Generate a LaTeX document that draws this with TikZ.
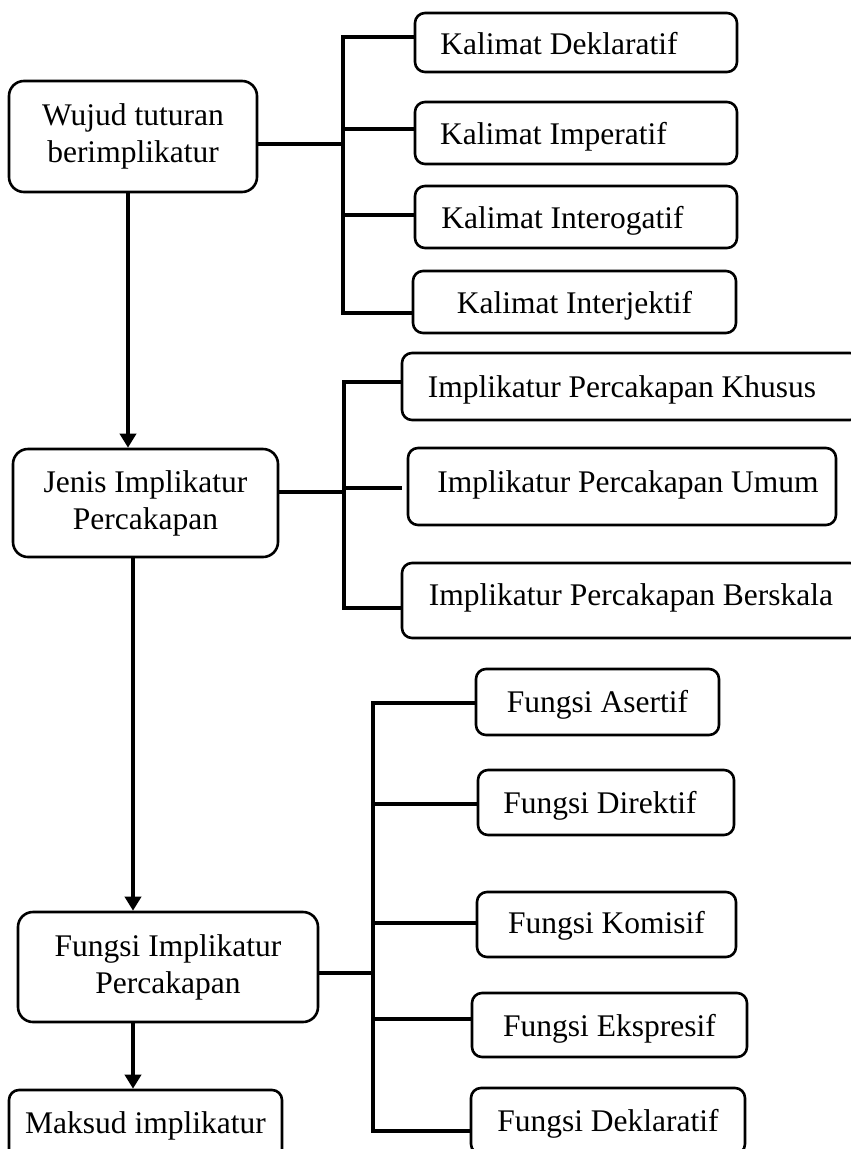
\documentclass[tikz,border=0pt]{standalone}
\usepackage{fontspec}
\setmainfont{Liberation Serif}
\usetikzlibrary{arrows.meta}
\begin{document}
\begin{tikzpicture}[x=1pt,y=-1pt,
  bx/.style={draw, line width=2.6pt, rounded corners=10pt, inner sep=0pt,
    font=\fontsize{31.5}{37}\selectfont, text height=23pt, text depth=#1},
  bx/.default=0pt,
  ts/.style={execute at begin node={\hspace*{#1}}},
  big/.style={draw, line width=2.6pt, rounded corners=15pt, inner sep=0pt,
    align=center, font=\fontsize{31.5}{37}\selectfont},
  conn/.style={line width=4pt, line cap=rect},
  arr/.style={line width=4pt, -{Triangle[width=16pt,length=14pt]}}]
\useasboundingbox (0,0) rectangle (851,1149);
\clip (0,0) rectangle (851,1149);

% main column
\node[big, minimum width=248pt, minimum height=111pt] (w1) at (133,136.5) {Wujud tuturan\\berimplikatur};
\node[big, minimum width=265pt, minimum height=108pt] (jn) at (145.5,503) {Jenis Implikatur\\Percakapan};
\node[big, minimum width=300pt, minimum height=110pt] (fg) at (168,967) {Fungsi Implikatur\\Percakapan};
\node[bx=9pt, minimum width=273pt, minimum height=72pt] (mk) at (145.5,1126) {Maksud implikatur};

% kalimat
\node[bx, ts=-34pt, minimum width=322pt, minimum height=59pt] (k1) at (576,42.5) {Kalimat Deklaratif};
\node[bx, ts=-45pt, minimum width=322pt, minimum height=62pt] (k2) at (576,133) {Kalimat Imperatif};
\node[bx, ts=-27pt, minimum width=322pt, minimum height=62pt] (k3) at (576,217) {Kalimat Interogatif};
\node[bx, minimum width=323pt, minimum height=62pt] (k4) at (574.5,302) {Kalimat Interjektif};

% implikatur
\node[bx=2pt, ts=-18pt, minimum width=458pt, minimum height=67pt] (i1) at (631,386.5) {Implikatur Percakapan Khusus};
\node[bx=12pt, ts=12pt, minimum width=428pt, minimum height=77pt] (i2) at (622,486.5) {Implikatur Percakapan Umum};
\node[bx=14pt, minimum width=458pt, minimum height=75pt] (i3) at (631,600.5) {Implikatur Percakapan Berskala};

% fungsi
\node[bx=3pt, minimum width=243pt, minimum height=66pt] (f1) at (597.5,702) {Fungsi Asertif};
\node[bx=2pt, ts=-12pt, minimum width=256pt, minimum height=65pt] (f2) at (606,802.5) {Fungsi Direktif};
\node[bx=6pt, minimum width=259pt, minimum height=65pt] (f3) at (606.5,924.5) {Fungsi Komisif};
\node[bx=1pt, minimum width=275pt, minimum height=64pt] (f4) at (609.5,1025) {Fungsi Ekspresif};
\node[bx=3pt, minimum width=274pt, minimum height=66pt] (f5) at (608,1121) {Fungsi Deklaratif};

% bus 1
\coordinate (p11) at (343,37);
\coordinate (p12) at (343,129);
\coordinate (p13) at (343,215);
\coordinate (p14) at (343,313);
\coordinate (c1) at (343,144);
\draw[conn] (p11) -- (p14);
\draw[conn] (c1 -| w1.east) -- (c1);
\draw[conn] (p11) -- (p11 -| k1.west);
\draw[conn] (p12) -- (p12 -| k2.west);
\draw[conn] (p13) -- (p13 -| k3.west);
\draw[conn] (p14) -- (p14 -| k4.west);

% bus 2
\coordinate (p21) at (344,382);
\coordinate (p22) at (344,488);
\coordinate (p23) at (344,608);
\coordinate (c2) at (344,492);
\coordinate (e22) at (400,488);
\draw[conn] (p21) -- (p23);
\draw[conn] (c2 -| jn.east) -- (c2);
\draw[conn] (p21) -- (p21 -| i1.west);
\draw[conn] (p22) -- (e22);
\draw[conn] (p23) -- (p23 -| i3.west);

% bus 3
\coordinate (p31) at (373,703);
\coordinate (p32) at (373,804);
\coordinate (p33) at (373,923);
\coordinate (p34) at (373,1019);
\coordinate (p35) at (373,1131);
\coordinate (c3) at (373,973);
\draw[conn] (p31) -- (p35);
\draw[conn] (c3 -| fg.east) -- (c3);
\draw[conn] (p31) -- (p31 -| f1.west);
\draw[conn] (p32) -- (p32 -| f2.west);
\draw[conn] (p33) -- (p33 -| f3.west);
\draw[conn] (p34) -- (p34 -| f4.west);
\draw[conn] (p35) -- (p35 -| f5.west);

% arrows
\coordinate (a1) at (128,0);
\coordinate (a2) at (133,0);
\draw[arr] (w1.south -| a1) -- (jn.north -| a1);
\draw[arr] (jn.south -| a2) -- (fg.north -| a2);
\draw[arr] (fg.south -| a2) -- (mk.north -| a2);
\end{tikzpicture}
\end{document}
